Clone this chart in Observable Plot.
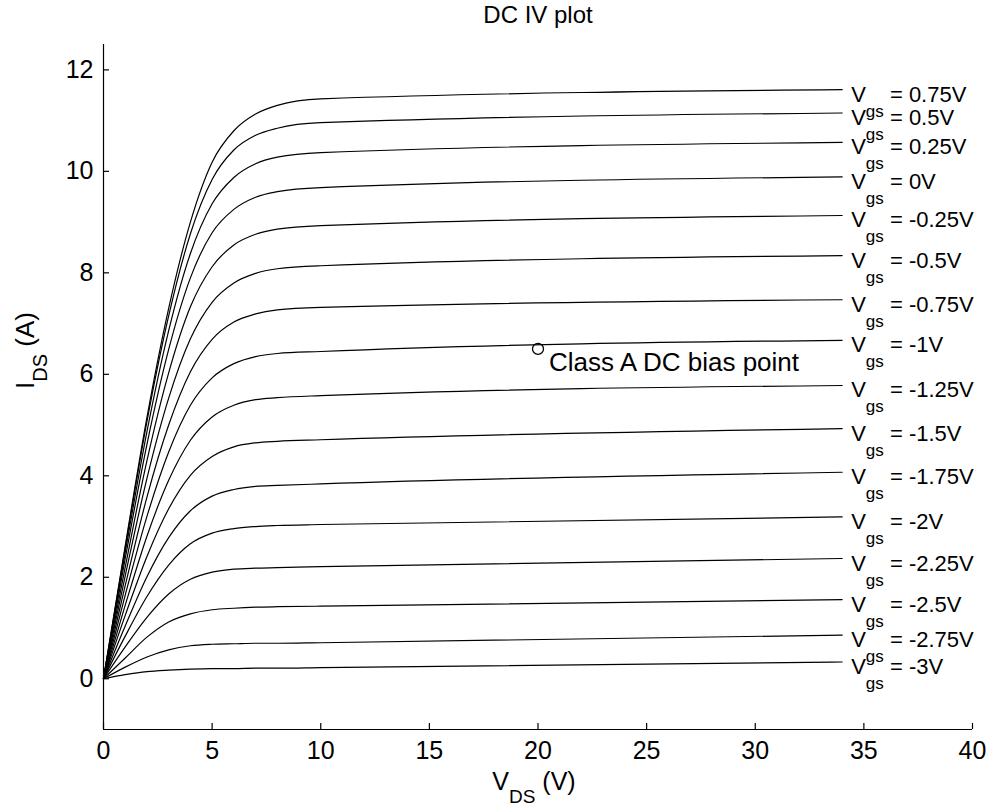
<!DOCTYPE html>
<html><head><meta charset="utf-8">
<script src="https://cdn.jsdelivr.net/npm/d3@7"></script>
<script src="https://cdn.jsdelivr.net/npm/@observablehq/plot@0.6"></script>
<style>
html,body{margin:0;padding:0;background:#fff;}
#chart svg{display:block;}
</style></head><body><div id="chart"></div>
<script>
// Drain-source voltage sample points (V)
const vds = [0, 1, 2, 3, 4, 5, 6, 7, 8, 10, 34];
// Gate voltage labels, top curve first
const vgsLabels = ["0.75V", "0.5V", "0.25V", "0V", "-0.25V", "-0.5V", "-0.75V", "-1V",
                   "-1.25V", "-1.5V", "-1.75V", "-2V", "-2.25V", "-2.5V", "-2.75V", "-3V"];
// Drain current (A) per gate voltage
const idsVgsP075 = [0, 2.62, 5.15, 7.30, 9.00, 10.18, 10.80, 11.13, 11.30, 11.43, 11.61];
const idsVgsP050 = [0, 2.58, 5.07, 7.15, 8.77, 9.84, 10.42, 10.71, 10.85, 10.96, 11.15];
const idsVgsP025 = [0, 2.49, 4.87, 6.86, 8.38, 9.36, 9.88, 10.15, 10.28, 10.37, 10.57];
const idsVgs0    = [0, 2.37, 4.62, 6.49, 7.90, 8.79, 9.25, 9.49, 9.60, 9.68, 9.89];
const idsVgsM025 = [0, 2.20, 4.30, 6.03, 7.33, 8.12, 8.55, 8.76, 8.86, 8.93, 9.13];
const idsVgsM050 = [0, 2.03, 3.95, 5.53, 6.70, 7.42, 7.80, 7.99, 8.08, 8.14, 8.34];
const idsVgsM075 = [0, 1.84, 3.58, 5.00, 6.05, 6.69, 7.03, 7.19, 7.27, 7.32, 7.47];
const idsVgsM100 = [0, 1.65, 3.20, 4.47, 5.39, 5.93, 6.21, 6.35, 6.41, 6.45, 6.67];
const idsVgsM125 = [0, 1.45, 2.81, 3.91, 4.70, 5.16, 5.39, 5.50, 5.54, 5.58, 5.78];
const idsVgsM150 = [0, 1.25, 2.41, 3.35, 4.01, 4.38, 4.57, 4.65, 4.68, 4.71, 4.93];
const idsVgsM175 = [0, 1.04, 2.01, 2.78, 3.31, 3.60, 3.73, 3.79, 3.81, 3.84, 4.07];
const idsVgsM200 = [0, 0.84, 1.62, 2.24, 2.66, 2.87, 2.96, 3.00, 3.02, 3.04, 3.19];
const idsVgsM225 = [0, 0.63, 1.21, 1.67, 1.96, 2.10, 2.16, 2.18, 2.19, 2.21, 2.37];
const idsVgsM250 = [0, 0.41, 0.82, 1.12, 1.28, 1.36, 1.39, 1.41, 1.42, 1.43, 1.56];
const idsVgsM275 = [0, 0.23, 0.43, 0.57, 0.65, 0.68, 0.69, 0.70, 0.70, 0.71, 0.86];
const idsVgsM300 = [0, 0.08, 0.14, 0.17, 0.19, 0.20, 0.20, 0.21, 0.21, 0.22, 0.33];
const idsCurves = [idsVgsP075, idsVgsP050, idsVgsP025, idsVgs0, idsVgsM025, idsVgsM050,
                   idsVgsM075, idsVgsM100, idsVgsM125, idsVgsM150, idsVgsM175, idsVgsM200,
                   idsVgsM225, idsVgsM250, idsVgsM275, idsVgsM300];
// Annotated bias point
const biasVds = 20;
const biasIds = 6.5;
const biasText = "Class A DC bias point";
// Axis ticks and texts
const xTicks = [0, 5, 10, 15, 20, 25, 30, 35, 40];
const yTicks = [0, 2, 4, 6, 8, 10, 12];
const titleText = "DC IV plot";
const xLabel = "V_{DS} (V)";
const yLabel = "I_{DS} (A)";

const rows = [];
idsCurves.forEach((arr, k) => arr.forEach((v, j) => rows.push({vgs: vgsLabels[k], vds: vds[j], ids: v})));
const labelRows = idsCurves.map((arr, k) => ({
  vds: vds[vds.length - 1], ids: arr[arr.length - 1], text: `V_{gs} = ${vgsLabels[k]}`
}));
const bias = [{vds: biasVds, ids: biasIds, text: biasText}];

const W = 987, H = 809, ML = 103, MR = 15, MT = 44, MB = 80;
const font = '"Liberation Sans", Arial, Helvetica, sans-serif';

const svg = Plot.plot({
  width: W, height: H,
  marginLeft: ML, marginRight: MR, marginTop: MT, marginBottom: MB,
  style: {fontFamily: font, background: "#fff", color: "#000", overflow: "visible"},
  x: {domain: [0, 40]},
  y: {domain: [-1, 12.5]},
  marks: [
    Plot.ruleX([0], {stroke: "#000", strokeWidth: 1.2}),
    Plot.ruleY([-1], {stroke: "#000", strokeWidth: 1.2}),
    Plot.tickX(xTicks, {x: d => d, stroke: "#000", strokeWidth: 1.2, insetTop: H - MT - MB - 6}),
    Plot.tickY(yTicks, {y: d => d, stroke: "#000", strokeWidth: 1.2, insetRight: W - ML - MR - 6}),
    Plot.axisX({ticks: xTicks, tickSize: 0, tickPadding: 12, fontSize: 25, label: null, tickFormat: d => String(d)}),
    Plot.axisY({ticks: yTicks, tickSize: 0, tickPadding: 10, fontSize: 25, label: null, tickFormat: d => String(d)}),
    Plot.line(rows, {x: "vds", y: "ids", z: "vgs", stroke: "#000", strokeWidth: 1.2, curve: "monotone-x"}),
    Plot.text(labelRows, {x: "vds", y: "ids", text: "text", textAnchor: "start", lineAnchor: "bottom", dx: 9, dy: 12, fontSize: 22, fill: "#000"}),
    Plot.dot(bias, {x: "vds", y: "ids", r: 5.5, stroke: "#000", fill: "none", strokeWidth: 1.3}),
    Plot.text(bias, {x: "vds", y: "ids", text: "text", textAnchor: "start", lineAnchor: "bottom", dx: 11, dy: 22, fontSize: 26, fill: "#000"}),
    Plot.text([titleText], {frameAnchor: "top", text: d => d, lineAnchor: "bottom", dy: -22, fontSize: 24, fill: "#000"}),
    Plot.text([xLabel], {frameAnchor: "bottom", text: d => d, lineAnchor: "bottom", dx: -4, dy: 60, fontSize: 25, fill: "#000"}),
    Plot.text([yLabel], {frameAnchor: "left", text: d => d, lineAnchor: "bottom", rotate: -90, dx: -70, dy: 2, fontSize: 26, fill: "#000"})
  ]
});

// Turn "X_{sub}rest" into real subscripts
const NS = "http://www.w3.org/2000/svg";
svg.querySelectorAll("text").forEach(t => {
  const m = t.textContent.match(/^(.*?)_\{(.*?)\}(.*)$/);
  if (!m) return;
  const g = t.closest("[font-size]");
  const fs = g ? parseFloat(g.getAttribute("font-size")) : 22;
  const sub = Math.round(fs * 0.77);
  const shift = Math.round(fs < 24 ? fs * 0.66 : fs * 0.5);
  t.textContent = "";
  const a = document.createElementNS(NS, "tspan"); a.textContent = m[1];
  const b = document.createElementNS(NS, "tspan"); b.textContent = m[2];
  b.setAttribute("font-size", sub); b.setAttribute("dy", shift);
  const c = document.createElementNS(NS, "tspan"); c.textContent = m[3];
  c.setAttribute("dy", -shift);
  t.append(a, b, c);
});

document.getElementById("chart").append(svg);
</script>
</body></html>
